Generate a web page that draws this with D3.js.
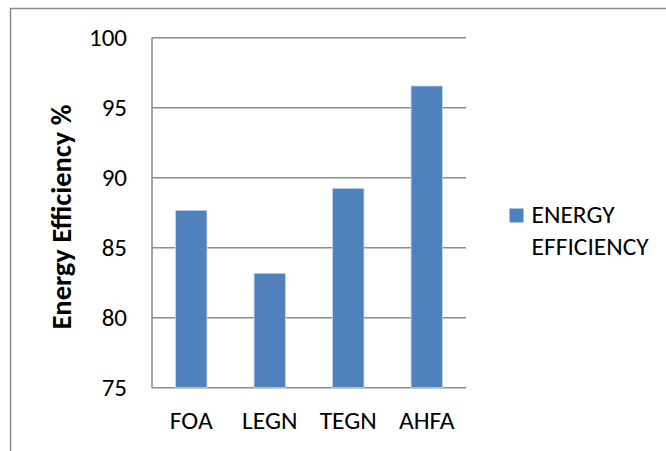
<!DOCTYPE html>
<html>
<head>
<meta charset="utf-8">
<script src="https://cdn.jsdelivr.net/npm/d3@7"></script>
<style>
  html, body { margin: 0; padding: 0; background: #fff; }
  svg { display: block; }
  text { font-family: Carlito, Calibri, Lato, "Open Sans", sans-serif; fill: #000; }
</style>
</head>
<body>
<svg id="chart" width="666" height="451"></svg>
<script>
// Energy efficiency by method
const categories = ["FOA", "LEGN", "TEGN", "AHFA"];
const efficiency = [87.67, 83.17, 89.24, 96.55];
const yTicks = [75, 80, 85, 90, 95, 100];
const seriesName = ["ENERGY", "EFFICIENCY"];
const yTitle = "Energy Efficiency %";

const svg = d3.select("#chart");
const plot = { left: 152, right: 466, top: 37.7, bottom: 387.7 };
const fontStack = "Carlito, Calibri, Lato, sans-serif";

// chart frame (left and top edges visible)
svg.append("path")
  .attr("d", "M10.5,451 V8.5 H666")
  .attr("fill", "none")
  .attr("stroke", "#8a8a8a")
  .attr("stroke-width", 1.5);

const x = d3.scaleBand()
  .domain(categories)
  .range([plot.left, plot.right])
  .paddingInner(0.6)
  .paddingOuter(0.3);

const y = d3.scaleLinear()
  .domain([75, 100])
  .range([plot.bottom, plot.top]);

// horizontal gridlines
svg.append("g")
  .selectAll("line")
  .data(yTicks)
  .join("line")
  .attr("x1", plot.left)
  .attr("x2", plot.right)
  .attr("y1", d => y(d))
  .attr("y2", d => y(d))
  .attr("stroke", "#8c8c8c")
  .attr("stroke-width", 1.6);

// y axis labels
const yAxis = d3.axisLeft(y).tickValues(yTicks).tickSize(0).tickPadding(25);
const gy = svg.append("g")
  .attr("transform", `translate(${plot.left},0)`)
  .call(yAxis);
gy.select(".domain").remove();
gy.selectAll("text")
  .attr("font-size", 25)
  .attr("font-family", fontStack)
  .attr("fill", "#000");

// bars
svg.append("g")
  .selectAll("rect")
  .data(categories.map((c, i) => ({ c, v: efficiency[i] })))
  .join("rect")
  .attr("x", d => x(d.c))
  .attr("width", x.bandwidth())
  .attr("y", d => y(d.v))
  .attr("height", d => y(75) - y(d.v))
  .attr("fill", "#4f81bd")
  .attr("stroke", "#c6d6ec")
  .attr("stroke-width", 0.8);

// vertical axis line
svg.append("line")
  .attr("x1", plot.left).attr("x2", plot.left)
  .attr("y1", plot.top).attr("y2", plot.bottom)
  .attr("stroke", "#8c8c8c")
  .attr("stroke-width", 1.6);

// x axis labels
const xAxis = d3.axisBottom(x).tickSize(0).tickPadding(23.5);
const gx = svg.append("g")
  .attr("transform", `translate(0,${plot.bottom})`)
  .call(xAxis);
gx.select(".domain").remove();
gx.selectAll("text")
  .attr("font-size", 25.5)
  .attr("font-family", fontStack)
  .attr("fill", "#000");

// y axis title
svg.append("text")
  .attr("transform", "translate(70.5,217) rotate(-90)")
  .attr("text-anchor", "middle")
  .attr("font-size", 28.5)
  .attr("font-weight", "bold")
  .text(yTitle);

// legend
const legend = svg.append("g");
legend.append("rect")
  .attr("x", 509.5).attr("y", 208.5)
  .attr("width", 14).attr("height", 14)
  .attr("fill", "#4f81bd");
legend.selectAll("text")
  .data(seriesName)
  .join("text")
  .attr("x", 531.5)
  .attr("y", (d, i) => 223.3 + i * 32)
  .attr("font-size", 25.5)
  .text(d => d);
</script>
</body>
</html>
